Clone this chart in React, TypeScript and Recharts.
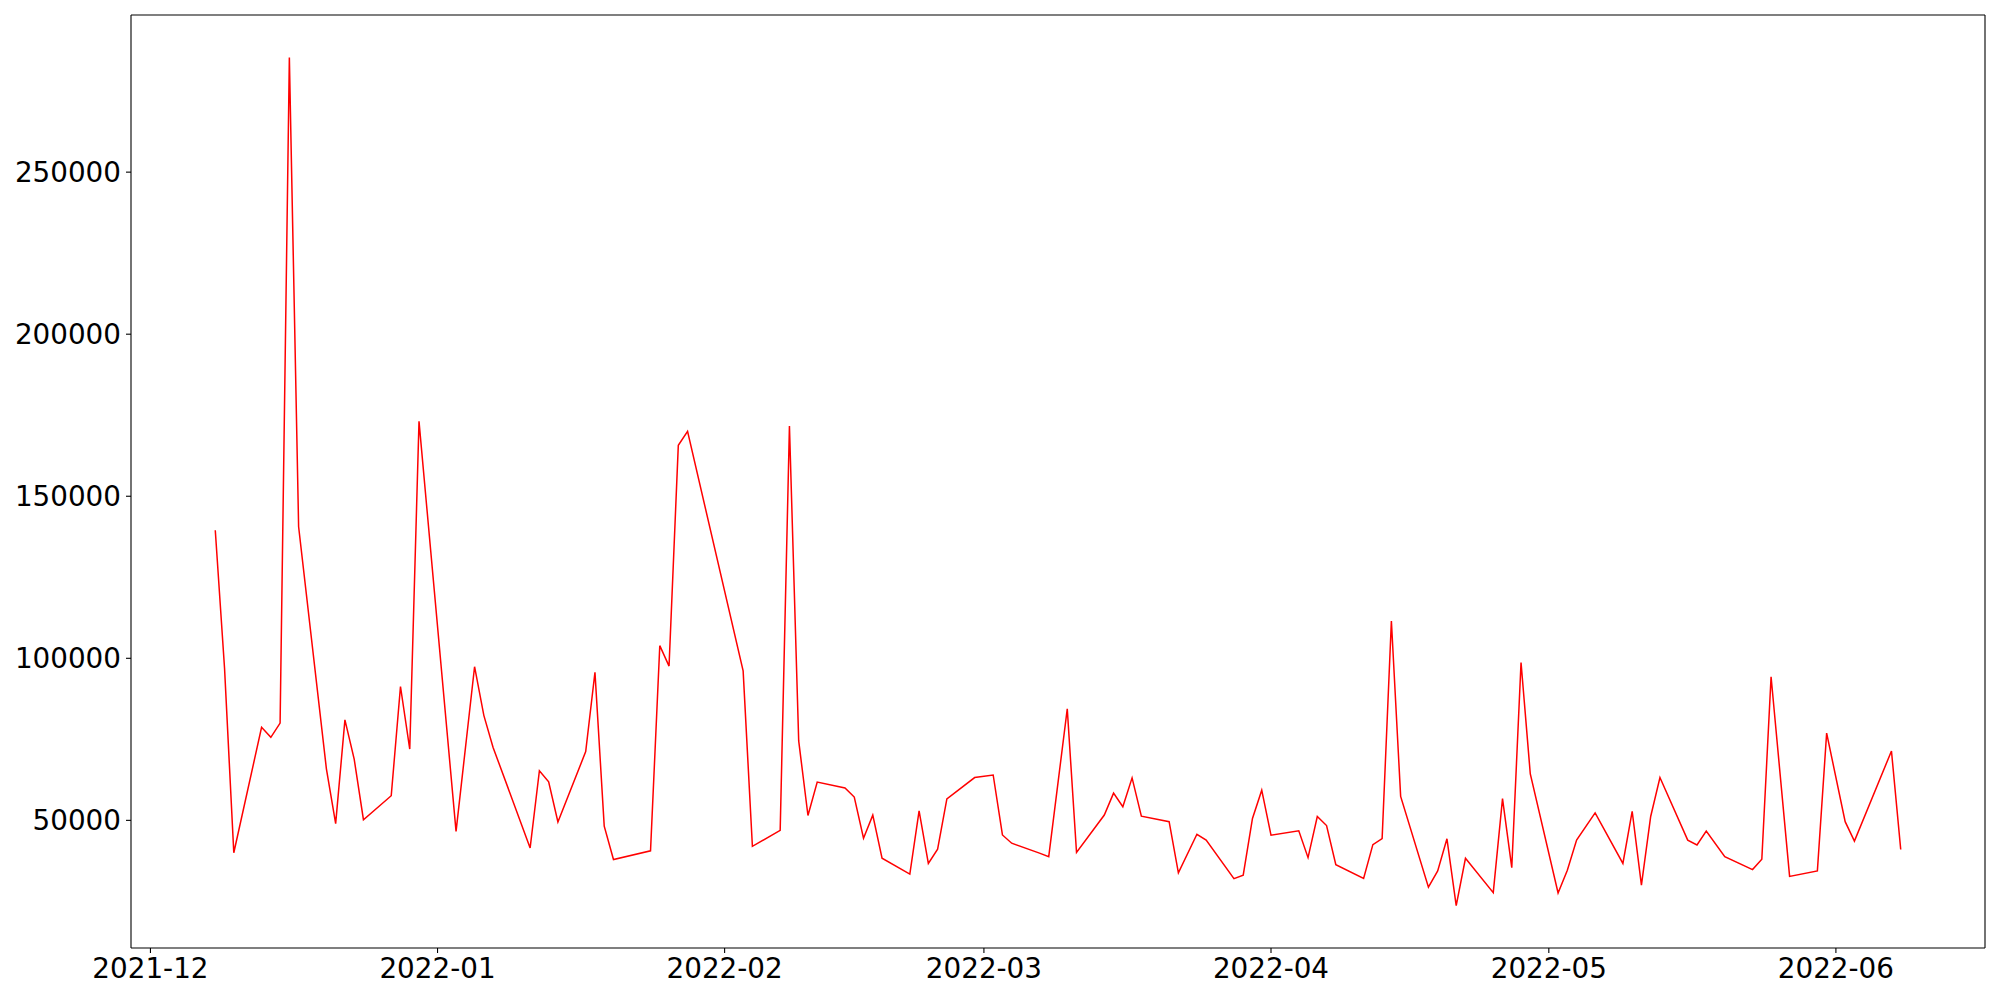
import { LineChart, Line, XAxis, YAxis, ReferenceLine } from 'recharts'

const dates = [
  '2021-12-08', '2021-12-09', '2021-12-10', '2021-12-13', '2021-12-14', '2021-12-15', '2021-12-16', '2021-12-17',
  '2021-12-20', '2021-12-21', '2021-12-22', '2021-12-23', '2021-12-24', '2021-12-27', '2021-12-28', '2021-12-29',
  '2021-12-30', '2022-01-03', '2022-01-05', '2022-01-06', '2022-01-07', '2022-01-11', '2022-01-12', '2022-01-13',
  '2022-01-14', '2022-01-17', '2022-01-18', '2022-01-19', '2022-01-20', '2022-01-24', '2022-01-25', '2022-01-26',
  '2022-01-27', '2022-01-28', '2022-02-03', '2022-02-04', '2022-02-07', '2022-02-08', '2022-02-09', '2022-02-10',
  '2022-02-11', '2022-02-14', '2022-02-15', '2022-02-16', '2022-02-17', '2022-02-18', '2022-02-21', '2022-02-22',
  '2022-02-23', '2022-02-24', '2022-02-25', '2022-02-28', '2022-03-02', '2022-03-03', '2022-03-04', '2022-03-07',
  '2022-03-08', '2022-03-10', '2022-03-11', '2022-03-14', '2022-03-15', '2022-03-16', '2022-03-17', '2022-03-18',
  '2022-03-21', '2022-03-22', '2022-03-24', '2022-03-25', '2022-03-28', '2022-03-29', '2022-03-30', '2022-03-31',
  '2022-04-01', '2022-04-04', '2022-04-05', '2022-04-06', '2022-04-07', '2022-04-08', '2022-04-11', '2022-04-12',
  '2022-04-13', '2022-04-14', '2022-04-15', '2022-04-18', '2022-04-19', '2022-04-20', '2022-04-21', '2022-04-22',
  '2022-04-25', '2022-04-26', '2022-04-27', '2022-04-28', '2022-04-29', '2022-05-02', '2022-05-03', '2022-05-04',
  '2022-05-06', '2022-05-09', '2022-05-10', '2022-05-11', '2022-05-12', '2022-05-13', '2022-05-16', '2022-05-17',
  '2022-05-18', '2022-05-20', '2022-05-23', '2022-05-24', '2022-05-25', '2022-05-27', '2022-05-30', '2022-05-31',
  '2022-06-02', '2022-06-03', '2022-06-07', '2022-06-08',
]

const values = [
  139500, 97000, 40000, 78700, 75600, 80000, 285400, 140600,
  65900, 49000, 81000, 68900, 50200, 57600, 91300, 72000,
  173100, 46600, 97400, 82400, 72500, 41500, 65300, 61900,
  49500, 71200, 95700, 48200, 37900, 40600, 103900, 97600,
  165700, 170000, 96100, 42000, 46900, 171650, 74500, 51500,
  61800, 60000, 57200, 44500, 51600, 38300, 33400, 52900,
  36700, 41100, 56600, 63200, 64000, 45500, 42950, 39900,
  38800, 84400, 40100, 51650, 58400, 54200, 63100, 51300,
  49600, 33800, 45700, 43900, 32000, 33100, 50600, 59300,
  45400, 46800, 38500, 51200, 48400, 36300, 32100, 42500,
  44400, 111500, 57400, 29400, 34400, 44300, 23700, 38300,
  27700, 56700, 35400, 98700, 64300, 27600, 34600, 43900,
  52300, 36700, 52800, 30000, 51200, 63200, 43900, 42400,
  46700, 38800, 34800, 38000, 94300, 32700, 34400, 76900,
  49600, 43600, 71400, 41000,
]

const monthTicks = ['2021-12-01', '2022-01-01', '2022-02-01', '2022-03-01', '2022-04-01', '2022-05-01', '2022-06-01']
const yTicks = [50000, 100000, 150000, 200000, 250000]

const data = dates.map((d, i) => ({ t: new Date(d).getTime(), value: values[i] }))

// matplotlib-style 5% margins
const tMin = data[0].t
const tMax = data[data.length - 1].t
const tPad = (tMax - tMin) * 0.05
const vMin = Math.min(...values)
const vMax = Math.max(...values)
const vPad = (vMax - vMin) * 0.05
const xDomain = [tMin - tPad, tMax + tPad]
const yDomain = [vMin - vPad, vMax + vPad]

const fmtMonth = (v: number) => {
  const d = new Date(v)
  return `${d.getUTCFullYear()}-${String(d.getUTCMonth() + 1).padStart(2, '0')}`
}

const tickStyle = { fontSize: 27.8, fill: '#000', fontFamily: 'DejaVu Sans' }
const frame = { stroke: '#000', strokeWidth: 1.1 }

export default function App() {
  return (
    <div style={{ position: 'absolute', left: 0, top: 0, width: 2000, height: 1000, background: '#fff' }}>
      <LineChart width={2000} height={1000} data={data} margin={{ top: 15, right: 15, bottom: 0, left: 0 }}>
        <XAxis
          dataKey="t"
          type="number"
          domain={xDomain}
          ticks={monthTicks.map(m => new Date(m).getTime())}
          tickFormatter={fmtMonth}
          tick={tickStyle}
          tickSize={5}
          tickMargin={5}
          height={52}
          axisLine={frame}
          tickLine={frame}
          allowDataOverflow
        />
        <YAxis
          type="number"
          domain={yDomain}
          ticks={yTicks}
          tick={tickStyle}
          tickSize={5}
          tickMargin={5}
          width={131}
          axisLine={frame}
          tickLine={frame}
          allowDataOverflow
        />
        {/* top and right spines */}
        <ReferenceLine y={yDomain[1]} stroke="#000" strokeWidth={1.1} ifOverflow="visible" />
        <ReferenceLine x={xDomain[1]} stroke="#000" strokeWidth={1.1} ifOverflow="visible" />
        <Line
          type="linear"
          dataKey="value"
          stroke="#ff0000"
          strokeWidth={1.5}
          dot={false}
          isAnimationActive={false}
        />
      </LineChart>
    </div>
  )
}
